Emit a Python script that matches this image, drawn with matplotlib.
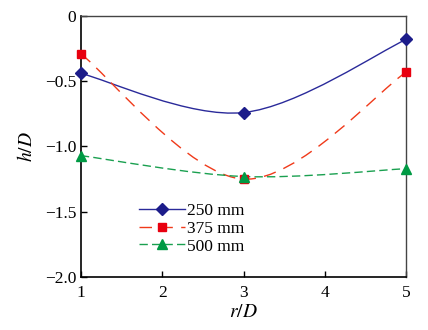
import matplotlib
matplotlib.use("Agg")
import matplotlib.pyplot as plt
import numpy as np
from matplotlib.path import Path
from matplotlib.patches import PathPatch
from matplotlib.lines import Line2D

plt.rcParams['font.family'] = ['Liberation Serif', 'DejaVu Serif']
plt.rcParams['mathtext.fontset'] = 'stix'

x = [1, 3, 5]
h250 = [-0.44, -0.74, -0.18]
h375 = [-0.29, -1.25, -0.43]
h500 = [-1.07, -1.23, -1.17]
labels = ['250 mm', '375 mm', '500 mm']
xticks = [1, 2, 3, 4, 5]
yticks = [0, -0.5, -1.0, -1.5, -2.0]
yticklabels = ['0', '\u22120.5', '\u22121.0', '\u22121.5', '\u22122.0']

fig = plt.figure(figsize=(4.28, 3.30), dpi=100)
ax = fig.add_axes([0.189, 0.1606, 0.760, 0.791])


def spline_path(xs, ys):
    P = np.column_stack([xs, ys]).astype(float)
    n = len(P)
    verts = [P[0]]
    codes = [Path.MOVETO]
    for i in range(n - 1):
        p0 = P[i - 1] if i > 0 else P[i]
        p1 = P[i]
        p2 = P[i + 1]
        p3 = P[i + 2] if i + 2 < n else P[i + 1]
        c1 = p1 + (p2 - p0) / 6.0
        c2 = p2 - (p3 - p1) / 6.0
        verts += [c1, c2, p2]
        codes += [Path.CURVE4] * 3
    return Path(verts, codes)


styles = [
    dict(lc='#2a2a9a', mc='#1c1c8a', marker='D', ms=6.5, ls='-', dashes=None),
    dict(lc='#f03a1a', mc='#e8000f', marker='s', ms=6, ls='--', dashes=(9, 6)),
    dict(lc='#1aa050', mc='#009a44', marker='^', ms=7, ls='--', dashes=(6, 3)),
]
series = [h250, h375, h500]
handles = []
for ys, st, lab in zip(series, styles, labels):
    patch = PathPatch(spline_path(x, ys), facecolor='none', edgecolor=st['lc'],
                      lw=1.0, transform=ax.transData, zorder=2)
    if st['dashes']:
        patch.set_linestyle((0, st['dashes']))
    ax.add_patch(patch)
    ax.plot(x, ys, ls='none', marker=st['marker'], ms=st['ms'], color=st['mc'],
            mec=st['mc'], zorder=3, clip_on=False)
    h = Line2D([], [], color=st['lc'], lw=1.0, marker=st['marker'], ms=st['ms'],
               mfc=st['mc'], mec=st['mc'])
    if st['dashes']:
        h.set_dashes(st['dashes'])
    handles.append(h)

ax.set_xlim(1, 5)
ax.set_ylim(-2.0, 0)
ax.set_xticks(xticks)
ax.set_yticks(yticks)
ax.set_yticklabels(yticklabels)
ax.tick_params(direction='in', length=4, width=1, labelsize=12.5, top=False, right=False)
ax.tick_params(axis='x', pad=6)
for s in ['left', 'bottom']:
    ax.spines[s].set_linewidth(1.2)
for s in ['top', 'right']:
    ax.spines[s].set_linewidth(1.0)
    ax.spines[s].set_color('#444444')

ax.set_xlabel('$r/D$', fontsize=14, labelpad=2)
ax.set_ylabel('$h/D$', fontsize=14, labelpad=6)

leg = ax.legend(handles, labels, loc='upper left', bbox_to_anchor=(0.178, 0.285),
                frameon=False, fontsize=12.5, handlelength=2.65, handletextpad=0.12,
                labelspacing=0.1, borderpad=0, borderaxespad=0)

fig.savefig('out.png', dpi=100)
